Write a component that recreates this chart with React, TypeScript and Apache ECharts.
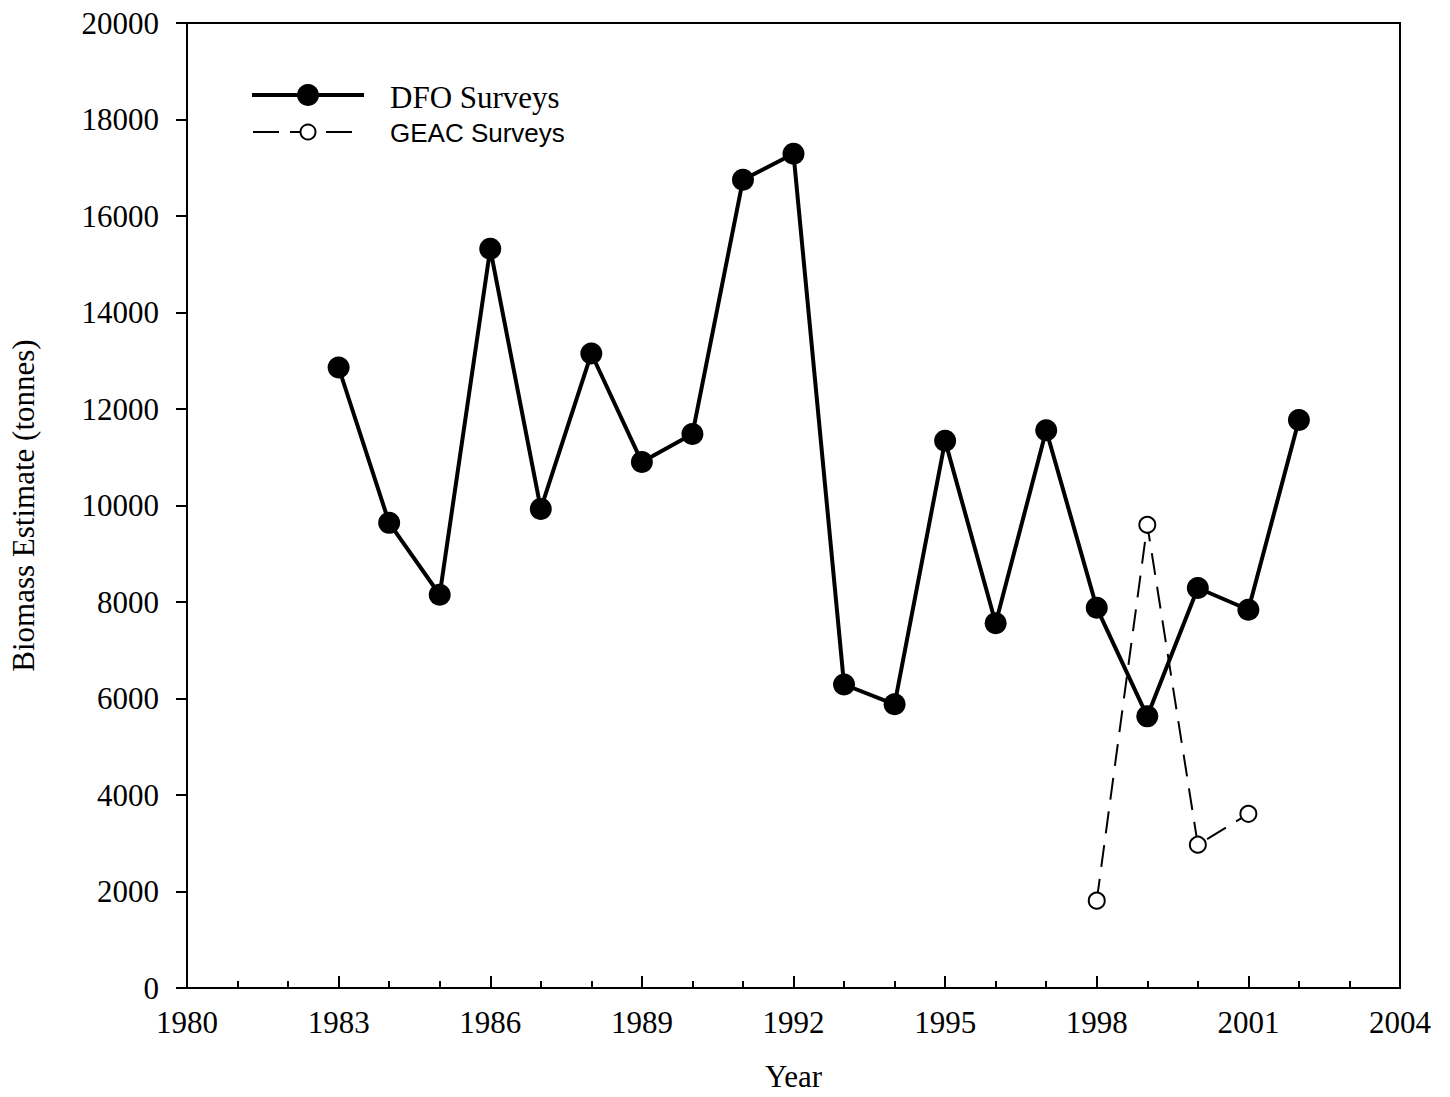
import React, { useEffect, useRef } from "react";
import * as echarts from "echarts";

const dfoYears = [1983, 1984, 1985, 1986, 1987, 1988, 1989, 1990, 1991, 1992, 1993, 1994, 1995, 1996, 1997, 1998, 1999, 2000, 2001, 2002];
const dfoValues = [12860, 9640, 8150, 15320, 9930, 13150, 10900, 11480, 16750, 17290, 6290, 5880, 11340, 7560, 11560, 7880, 5630, 8290, 7840, 11770];
const geacYears = [1998, 1999, 2000, 2001];
const geacValues = [1810, 9600, 2970, 3610];

const serif = "Liberation Serif";
const sans = "Liberation Sans";

export default function App() {
  const ref = useRef<HTMLDivElement>(null);
  useEffect(() => {
    if (!ref.current) return;
    const chart = echarts.init(ref.current, null, { renderer: "svg" });
    chart.setOption({
      animation: false,
      backgroundColor: "#fff",
      textStyle: { fontFamily: serif },
      grid: { left: 186, right: 50, top: 23, bottom: 106, show: true, borderColor: "#000", borderWidth: 2, backgroundColor: "transparent" },
      xAxis: {
        type: "value",
        min: 1980,
        max: 2004,
        interval: 3,
        name: "Year",
        nameLocation: "middle",
        nameGap: 73,
        nameTextStyle: { fontFamily: serif, fontSize: 31, color: "#000" },
        axisLine: { show: true, lineStyle: { color: "#000", width: 2 } },
        axisTick: { show: true, inside: true, length: 12, lineStyle: { color: "#000", width: 2 } },
        minorTick: { show: true, splitNumber: 3, length: 7, lineStyle: { color: "#000", width: 2 } },
        splitLine: { show: false },
        minorSplitLine: { show: false },
        axisLabel: { fontFamily: serif, fontSize: 31, color: "#000", margin: 19, formatter: (v: number) => String(v) },
      },
      yAxis: {
        type: "value",
        min: 0,
        max: 20000,
        interval: 2000,
        name: "Biomass Estimate (tonnes)",
        nameLocation: "middle",
        nameGap: 148,
        nameTextStyle: { fontFamily: serif, fontSize: 31, color: "#000" },
        axisLine: { show: true, lineStyle: { color: "#000", width: 2 } },
        axisTick: { show: true, inside: false, length: 11, lineStyle: { color: "#000", width: 2 } },
        splitLine: { show: false },
        axisLabel: { fontFamily: serif, fontSize: 31, color: "#000", margin: 28, formatter: (v: number) => String(v) },
      },
      series: [
        {
          name: "DFO Surveys",
          type: "line",
          data: dfoYears.map((y, i) => [y, dfoValues[i]]),
          symbol: "circle",
          symbolSize: 22,
          lineStyle: { color: "#000", width: 4 },
          itemStyle: { color: "#000" },
          z: 3,
        },
        {
          name: "GEAC Surveys",
          type: "line",
          data: geacYears.map((y, i) => [y, geacValues[i]]),
          symbol: "circle",
          symbolSize: 16,
          lineStyle: { color: "#000", width: 2, type: [22, 12] },
          itemStyle: { color: "#fff", borderColor: "#000", borderWidth: 2 },
          z: 4,
        },
      ],
      graphic: [
        { type: "line", shape: { x1: 252, y1: 95, x2: 364, y2: 95 }, style: { stroke: "#000", lineWidth: 4 } },
        { type: "circle", shape: { cx: 308, cy: 95, r: 11 }, style: { fill: "#000" } },
        { type: "text", x: 390, y: 97, style: { text: "DFO Surveys", fontFamily: serif, fontSize: 31, fill: "#000", verticalAlign: "middle" } },
        { type: "line", shape: { x1: 253, y1: 132, x2: 279, y2: 132 }, style: { stroke: "#000", lineWidth: 2 } },
        { type: "line", shape: { x1: 290, y1: 132, x2: 301, y2: 132 }, style: { stroke: "#000", lineWidth: 2 } },
        { type: "circle", shape: { cx: 308, cy: 132, r: 7.5 }, style: { fill: "#fff", stroke: "#000", lineWidth: 2 } },
        { type: "line", shape: { x1: 326, y1: 132, x2: 352, y2: 132 }, style: { stroke: "#000", lineWidth: 2 } },
        { type: "text", x: 390, y: 133, style: { text: "GEAC Surveys", fontFamily: sans, fontSize: 26, fill: "#000", verticalAlign: "middle" } },
      ],
    });
    return () => chart.dispose();
  }, []);
  return <div ref={ref} style={{ position: "absolute", left: 0, top: 0, width: 1450, height: 1097 }} />;
}
